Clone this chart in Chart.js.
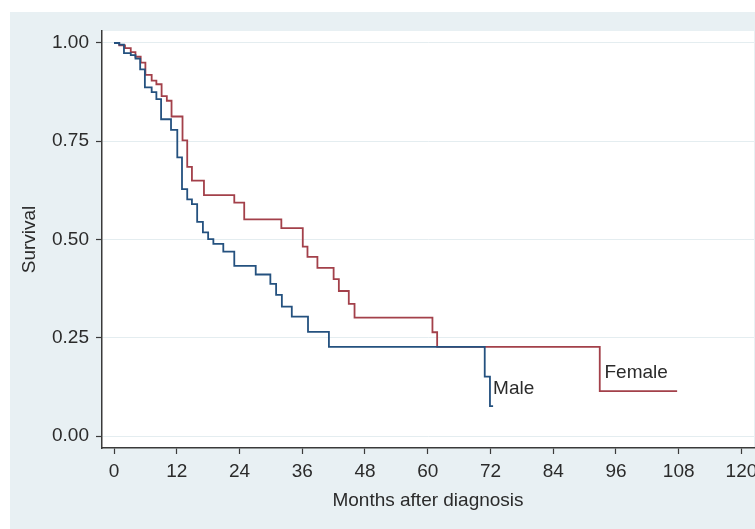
<!DOCTYPE html>
<html>
<head>
<meta charset="utf-8">
<script src="https://cdn.jsdelivr.net/npm/chart.js@4.4.1/dist/chart.umd.min.js"></script>
<style>
  body { margin: 0; background: #ffffff; }
  #wrap { position: relative; width: 755px; height: 529px; }
</style>
</head>
<body>
<div id="wrap"><canvas id="myChart"></canvas></div>
<script>
var ctx = document.getElementById("myChart").getContext('2d');

// Kaplan-Meier steps (months, survival after the drop)
const maleMonths = [0, 1.0, 1.9, 3.2, 4.1, 5.0, 5.9, 7.2, 8.1, 9.0, 10.9, 12.1, 13.0, 14.0, 14.9, 15.9, 17.0, 18.0, 19.0, 20.9, 23.0, 27.1, 29.9, 31.0, 32.1, 34.0, 37.1, 41.1, 70.9, 71.9, 72.5];
const maleSurvival = [1, 0.996, 0.974, 0.969, 0.960, 0.933, 0.887, 0.875, 0.857, 0.806, 0.779, 0.709, 0.628, 0.602, 0.590, 0.545, 0.518, 0.501, 0.489, 0.469, 0.433, 0.411, 0.387, 0.359, 0.329, 0.304, 0.265, 0.227, 0.151, 0.076, 0.076];

const femaleMonths = [0, 1.0, 2.1, 3.2, 4.1, 5.1, 6.0, 7.2, 8.1, 9.1, 10.1, 11.0, 13.1, 14.0, 14.9, 17.2, 23.0, 24.9, 32.0, 36.1, 37.0, 38.9, 42.0, 43.0, 44.9, 46.0, 60.9, 61.8, 92.9, 107.7];
const femaleSurvival = [1, 0.994, 0.987, 0.977, 0.965, 0.950, 0.919, 0.904, 0.895, 0.865, 0.853, 0.813, 0.752, 0.685, 0.650, 0.613, 0.594, 0.551, 0.529, 0.482, 0.456, 0.428, 0.399, 0.369, 0.336, 0.301, 0.264, 0.227, 0.114, 0.114];

const xTicks = [0, 12, 24, 36, 48, 60, 72, 84, 96, 108, 120];
const yTicks = [0, 0.25, 0.5, 0.75, 1];

// curve labels placed next to the curve ends
const curveLabels = ['Male', 'Female'];
const labelMonths = [72.5, 93.8];
const labelSurvival = [0.120, 0.161];

function toPoints(xs, ys) {
  return xs.map((x, i) => ({ x: x, y: ys[i] }));
}

const textColor = '#2b2b2b';
const axisFont = { family: "'Liberation Sans', Arial, sans-serif", size: 19 };

const background = {
  id: 'background',
  beforeDraw(chart) {
    const c = chart.ctx, a = chart.chartArea;
    c.save();
    c.fillStyle = '#ffffff';
    c.fillRect(0, 0, chart.width, chart.height);
    c.fillStyle = '#e8f0f3';
    c.fillRect(10, 12, chart.width - 10, chart.height - 12);
    c.fillStyle = '#ffffff';
    c.fillRect(a.left, a.top, a.right - a.left, a.bottom - a.top);
    c.restore();
  }
};

const endLabels = {
  id: 'endLabels',
  afterDatasetsDraw(chart) {
    const c = chart.ctx, xs = chart.scales.x, ys = chart.scales.y;
    c.save();
    c.font = "19px 'Liberation Sans', Arial, sans-serif";
    c.fillStyle = textColor;
    c.textAlign = 'left';
    c.textBaseline = 'middle';
    curveLabels.forEach((txt, i) => {
      c.fillText(txt, xs.getPixelForValue(labelMonths[i]), ys.getPixelForValue(labelSurvival[i]));
    });
    c.restore();
  }
};

const data = {
  datasets: [{
    label: 'Male',
    data: toPoints(maleMonths, maleSurvival),
    showLine: true,
    stepped: 'before',
    borderColor: '#24517f',
    backgroundColor: '#24517f',
    borderWidth: 1.8,
    pointRadius: 0
  }, {
    label: 'Female',
    data: toPoints(femaleMonths, femaleSurvival),
    showLine: true,
    stepped: 'before',
    borderColor: '#a3404a',
    backgroundColor: '#a3404a',
    borderWidth: 1.8,
    pointRadius: 0
  }]
};

const config = {
  type: 'scatter',
  data,
  options: {
    responsive: true,
    maintainAspectRatio: false,
    animation: false,
    layout: { padding: { left: 10, top: 31, right: 1, bottom: 0 } },
    plugins: {
      legend: { display: false },
      tooltip: { enabled: false }
    },
    scales: {
      x: {
        type: 'linear',
        min: -2.3,
        max: 122.4,
        afterBuildTicks: (scale) => { scale.ticks = xTicks.map(v => ({ value: v })); },
        afterFit: (scale) => { scale.height = 81; scale.paddingLeft = 0; scale.paddingRight = 0; },
        grid: { display: true, drawOnChartArea: false, tickColor: '#3a3a3a', tickLength: 6, tickWidth: 1.2 },
        border: { color: '#3a3a3a', width: 1.5 },
        ticks: { color: textColor, font: axisFont, padding: 6, maxRotation: 0, autoSkip: false },
        title: { display: true, text: 'Months after diagnosis', color: textColor, font: axisFont, padding: { top: 0, bottom: 17 } }
      },
      y: {
        type: 'linear',
        min: -0.0305,
        max: 1.0305,
        afterBuildTicks: (scale) => { scale.ticks = yTicks.map(v => ({ value: v })); },
        afterFit: (scale) => { scale.width = 92; scale.paddingTop = 0; scale.paddingBottom = 0; },
        grid: { color: '#e4edf0', lineWidth: 1, tickColor: '#3a3a3a', tickLength: 6, tickWidth: 1.2 },
        border: { color: '#3a3a3a', width: 1.5 },
        ticks: { color: textColor, font: axisFont, padding: 7, callback: (v) => v.toFixed(2) },
        title: { display: true, text: 'Survival', color: textColor, font: axisFont, padding: { top: 8, bottom: 0 } }
      }
    }
  },
  plugins: [background, endLabels]
};

var myChart = new Chart(ctx, config);
</script>
</body>
</html>
